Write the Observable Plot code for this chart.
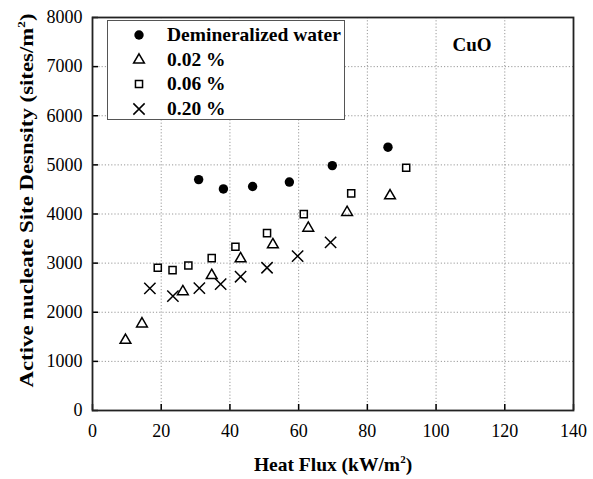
<!DOCTYPE html>
<html>
<head>
<meta charset="utf-8">
<script src="https://cdn.jsdelivr.net/npm/d3@7"></script>
<script src="https://cdn.jsdelivr.net/npm/@observablehq/plot@0.6"></script>
<style>
  body { margin: 0; background: #fff; }
  #wrap { position: relative; width: 593px; height: 479px; font-family: "Liberation Serif", "Times New Roman", serif; }
  #legend { position: absolute; left: 107px; top: 20px; width: 238px; height: 100px; border: 1.2px solid #555; background: #fff; box-sizing: border-box; }
  .item { position: absolute; left: 0; height: 24px; display: flex; align-items: center; font-family: "Liberation Serif", serif; font-weight: bold; font-size: 19.5px; color: #000; }
  .item svg { width: 24px; height: 24px; margin-left: 19px; margin-right: 16px; overflow: visible; }
</style>
</head>
<body>
<div id="wrap"></div>
<script>
// Data
const seriesNames = ["Demineralized water", "0.02 %", "0.06 %", "0.20 %"];
const seriesSymbols = ["circle", "triangle", "square", "times"];

const waterX = [30.9, 38.1, 46.6, 57.3, 69.8, 86.0];
const waterY = [4700, 4510, 4560, 4650, 4985, 5360];

const c002X = [9.6, 14.4, 26.3, 34.7, 43.1, 52.5, 62.8, 74.1, 86.6];
const c002Y = [1430, 1765, 2420, 2750, 3090, 3375, 3713, 4033, 4372];

const c006X = [19.0, 23.3, 27.9, 34.7, 41.6, 50.8, 61.5, 75.3, 91.3];
const c006Y = [2906, 2858, 2953, 3102, 3334, 3611, 3998, 4420, 4943];

const c020X = [16.7, 23.4, 31.1, 37.3, 43.1, 50.8, 59.7, 69.3];
const c020Y = [2485, 2328, 2491, 2573, 2723, 2906, 3143, 3422];

const xTicks = [0, 20, 40, 60, 80, 100, 120, 140];
const yTicks = [0, 1000, 2000, 3000, 4000, 5000, 6000, 7000, 8000];
const xGrid = [20, 40, 60, 80, 100, 120];
const yGrid = [1000, 2000, 3000, 4000, 5000, 6000, 7000];

const toRows = (xs, ys, s) => xs.map((x, i) => ({x, y: ys[i], s}));
const water = toRows(waterX, waterY, seriesNames[0]);
const s002 = toRows(c002X, c002Y, seriesNames[1]);
const s006 = toRows(c006X, c006Y, seriesNames[2]);
const s020 = toRows(c020X, c020Y, seriesNames[3]);

// marker radius per series (Plot r, area = pi r^2)
const radii = [4.7, 4.0, 4.0, 5.2];

const font = "Liberation Serif, Times New Roman, serif";

const chart = Plot.plot({
  width: 593,
  height: 479,
  marginLeft: 92,
  marginRight: 20,
  marginTop: 17,
  marginBottom: 69,
  style: { fontFamily: font, fontSize: "18px", color: "#000", background: "#fff" },
  x: { domain: [0, 140] },
  y: { domain: [0, 8000] },
  marks: [
    Plot.gridX(xGrid, { stroke: "#999", strokeOpacity: 1, strokeDasharray: "1.2,2" }),
    Plot.gridY(yGrid, { stroke: "#999", strokeOpacity: 1, strokeDasharray: "1.2,2" }),
    Plot.axisX(xTicks, { tickSize: -6, tickPadding: 20, stroke: "#000", strokeWidth: 1.5, fontSize: 18, fontFamily: font, tickFormat: d => String(d), label: null }),
    Plot.axisY(yTicks, { tickSize: -6, tickPadding: 16, stroke: "#000", strokeWidth: 1.5, fontSize: 18, fontFamily: font, tickFormat: d => String(d), label: null }),
    Plot.frame({ stroke: "#222", strokeWidth: 1.8 }),
    Plot.dot(water, { x: "x", y: "y", r: radii[0], fill: "#000", stroke: "none" }),
    Plot.dot(s002, { x: "x", y: "y", symbol: seriesSymbols[1], r: radii[1], fill: "none", stroke: "#000", strokeWidth: 1.5 }),
    Plot.dot(s006, { x: "x", y: "y", symbol: seriesSymbols[2], r: radii[2], fill: "none", stroke: "#000", strokeWidth: 1.5 }),
    Plot.dot(s020, { x: "x", y: "y", symbol: seriesSymbols[3], r: radii[3], fill: "none", stroke: "#000", strokeWidth: 1.5 }),
    Plot.text(["CuO"], { frameAnchor: "top-right", dx: -82, dy: 20, text: d => d, fontWeight: "bold", fontSize: 19, fontFamily: font, fill: "#000" })
  ]
});

const wrap = document.getElementById("wrap");
wrap.appendChild(chart);

// Axis titles with superscripts
const svg = d3.select(chart);
const xt = svg.append("text")
  .attr("x", 333).attr("y", 471)
  .attr("text-anchor", "middle")
  .attr("font-family", font).attr("font-weight", "bold").attr("font-size", 19.5).attr("fill", "#000");
xt.append("tspan").text("Heat Flux (kW/m");
xt.append("tspan").attr("dy", -8).attr("font-size", 11).text("2");
xt.append("tspan").attr("dy", 8).text(")");

const yt = svg.append("text")
  .attr("transform", "translate(33,200.5) rotate(-90)")
  .attr("text-anchor", "middle")
  .attr("textLength", 374).attr("lengthAdjust", "spacingAndGlyphs")
  .attr("font-family", font).attr("font-weight", "bold").attr("font-size", 19).attr("fill", "#000");
yt.append("tspan").text("Active nucleate Site Desnsity (sites/m");
yt.append("tspan").attr("dy", -8).attr("font-size", 11).text("2");
yt.append("tspan").attr("dy", 8).text(")");

// Legend overlay
const legend = document.createElement("div");
legend.id = "legend";
wrap.appendChild(legend);
const symMap = { circle: d3.symbolCircle, triangle: d3.symbolTriangle, square: d3.symbolSquare, times: d3.symbolTimes };
seriesNames.forEach((name, i) => {
  const item = document.createElement("div");
  item.className = "item";
  item.style.top = (2 + i * 24.7) + "px";
  const sym = seriesSymbols[i];
  const filled = sym === "circle";
  const r = radii[i];
  const path = d3.symbol(symMap[sym], Math.PI * r * r)();
  item.innerHTML = `<svg viewBox="-12 -12 24 24"><path d="${path}" fill="${filled ? "#000" : "none"}" stroke="${filled ? "none" : "#000"}" stroke-width="1.5"/></svg><span>${name}</span>`;
  legend.appendChild(item);
});
</script>
</body>
</html>
